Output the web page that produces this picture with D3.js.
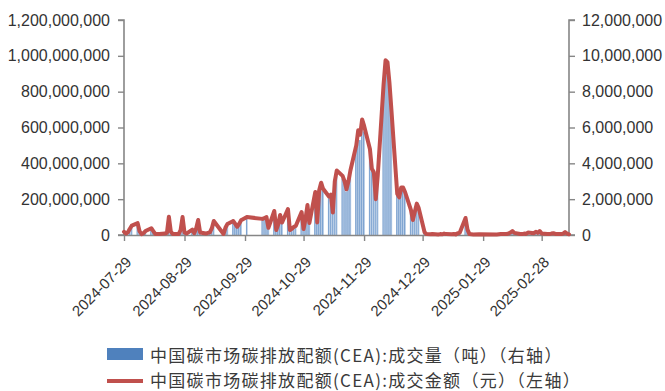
<!DOCTYPE html>
<html>
<head>
<meta charset="utf-8">
<script src="https://cdn.jsdelivr.net/npm/d3@7"></script>
<style>
  html, body { margin: 0; padding: 0; background: #fff; }
  svg { display: block; }
  .tick text { font-family: "Liberation Sans", Arial, sans-serif; fill: #333; }
</style>
</head>
<body>
<svg id="chart" width="665" height="391"></svg>
<script>
// Trading days, CEA turnover (yuan, left axis) and volume (tons, right axis)
const dates = [
  "2024-07-29","2024-07-30","2024-07-31",
  "2024-08-01","2024-08-02","2024-08-05","2024-08-06","2024-08-07","2024-08-08","2024-08-09",
  "2024-08-12","2024-08-13","2024-08-14","2024-08-15","2024-08-16","2024-08-19","2024-08-20",
  "2024-08-21","2024-08-22","2024-08-23","2024-08-26","2024-08-27","2024-08-28","2024-08-29","2024-08-30",
  "2024-09-02","2024-09-03","2024-09-04","2024-09-05","2024-09-06","2024-09-09","2024-09-10",
  "2024-09-11","2024-09-12","2024-09-13","2024-09-18","2024-09-19","2024-09-20","2024-09-23",
  "2024-09-24","2024-09-25","2024-09-26","2024-09-27","2024-09-30",
  "2024-10-08","2024-10-09","2024-10-10","2024-10-11","2024-10-14","2024-10-15","2024-10-16",
  "2024-10-17","2024-10-18","2024-10-21","2024-10-22","2024-10-23","2024-10-24","2024-10-25",
  "2024-10-28","2024-10-29","2024-10-30","2024-10-31",
  "2024-11-01","2024-11-04","2024-11-05","2024-11-06","2024-11-07","2024-11-08","2024-11-11",
  "2024-11-12","2024-11-13","2024-11-14","2024-11-15","2024-11-18","2024-11-19","2024-11-20",
  "2024-11-21","2024-11-22","2024-11-25","2024-11-26","2024-11-27","2024-11-28","2024-11-29",
  "2024-12-02","2024-12-03","2024-12-04","2024-12-05","2024-12-06","2024-12-09","2024-12-10",
  "2024-12-11","2024-12-12","2024-12-13","2024-12-16","2024-12-17","2024-12-18","2024-12-19",
  "2024-12-20","2024-12-23","2024-12-24","2024-12-25","2024-12-26","2024-12-27","2024-12-30","2024-12-31",
  "2025-01-02","2025-01-03","2025-01-06","2025-01-07","2025-01-08","2025-01-09","2025-01-10",
  "2025-01-13","2025-01-14","2025-01-15","2025-01-16","2025-01-17","2025-01-20","2025-01-21",
  "2025-01-22","2025-01-23","2025-01-24","2025-01-27",
  "2025-02-05","2025-02-06","2025-02-07","2025-02-10","2025-02-11","2025-02-12","2025-02-13",
  "2025-02-14","2025-02-17","2025-02-18","2025-02-19","2025-02-20","2025-02-21","2025-02-24",
  "2025-02-25","2025-02-26","2025-02-27","2025-02-28",
  "2025-03-03","2025-03-04","2025-03-05","2025-03-06","2025-03-07","2025-03-10","2025-03-11",
  "2025-03-12","2025-03-13","2025-03-14"
];

// 成交金额（元）
const amount = [
  18e6, 8e6, 15e6,
  35e6, 52e6, 66e6, 20e6, 5e6, 10e6, 22e6,
  38e6, 22e6, 6e6, 5e6, 6e6, 8e6, 12e6,
  102e6, 18e6, 6e6, 5e6, 28e6, 100e6, 14e6, 8e6,
  30e6, 10e6, 38e6, 84e6, 14e6, 8e6, 12e6,
  15e6, 38e6, 78e6, 6e6, 42e6, 61e6, 78e6,
  62e6, 46e6, 62e6, 82e6, 100e6,
  90e6, 95e6, 100e6, 40e6, 134e6, 28e6, 60e6,
  112e6, 70e6, 145e6, 28e6, 35e6, 45e6, 50e6,
  128e6, 33e6, 90e6, 167e6,
  67e6, 240e6, 70e6, 250e6, 292e6, 258e6, 215e6,
  225e6, 125e6, 300e6, 360e6, 330e6, 300e6, 255e6,
  300e6, 360e6, 500e6, 585e6, 560e6, 645e6, 610e6,
  480e6, 370e6, 350e6, 200e6, 330e6, 840e6, 975e6,
  965e6, 850e6, 700e6, 230e6, 210e6, 265e6, 265e6,
  240e6, 140e6, 84e6, 130e6, 175e6, 150e6, 15e6, 5e6,
  4e6, 6e6, 3e6, 5e6, 4e6, 8e6, 5e6,
  4e6, 6e6, 3e6, 10e6, 12e6, 95e6, 30e6,
  5e6, 4e6, 3e6, 4e6,
  3e6, 4e6, 5e6, 6e6, 8e6, 14e6, 22e6,
  12e6, 6e6, 5e6, 8e6, 6e6, 14e6, 10e6,
  18e6, 12e6, 22e6, 8e6,
  6e6, 5e6, 8e6, 10e6, 6e6, 5e6, 8e6,
  16e6, 8e6, 4e6
];

// 成交量（吨）
const volume = [
  190e3, 85e3, 160e3,
  380e3, 560e3, 720e3, 215e3, 55e3, 110e3, 240e3,
  410e3, 235e3, 65e3, 55e3, 65e3, 88e3, 130e3,
  1120e3, 195e3, 65e3, 55e3, 305e3, 1090e3, 150e3, 88e3,
  335e3, 112e3, 425e3, 950e3, 158e3, 90e3, 135e3,
  170e3, 430e3, 880e3, 68e3, 475e3, 690e3, 880e3,
  700e3, 520e3, 700e3, 920e3, 1100e3,
  880e3, 930e3, 980e3, 390e3, 1300e3, 270e3, 580e3,
  1080e3, 680e3, 1400e3, 270e3, 340e3, 440e3, 490e3,
  1240e3, 320e3, 870e3, 1610e3,
  650e3, 2300e3, 670e3, 2380e3, 2800e3, 2470e3, 2060e3,
  2150e3, 1190e3, 2860e3, 3430e3, 3150e3, 2860e3, 2430e3,
  2860e3, 3420e3, 4750e3, 5550e3, 5300e3, 6100e3, 5780e3,
  4600e3, 3550e3, 3360e3, 1920e3, 3170e3, 8100e3, 9400e3,
  9300e3, 8200e3, 6750e3, 2230e3, 2040e3, 2570e3, 2570e3,
  2330e3, 1360e3, 815e3, 1260e3, 1700e3, 1460e3, 150e3, 50e3,
  42e3, 63e3, 32e3, 52e3, 42e3, 84e3, 52e3,
  42e3, 63e3, 32e3, 105e3, 126e3, 1000e3, 315e3,
  53e3, 42e3, 32e3, 42e3,
  35e3, 46e3, 58e3, 70e3, 93e3, 163e3, 256e3,
  140e3, 70e3, 58e3, 93e3, 70e3, 163e3, 116e3,
  209e3, 140e3, 256e3, 93e3,
  70e3, 58e3, 93e3, 116e3, 70e3, 58e3, 93e3,
  186e3, 93e3, 46e3
];

const xTickDates = ["2024-07-29","2024-08-29","2024-09-29","2024-10-29","2024-11-29","2024-12-29","2025-01-29","2025-02-28"];
const leftTicks = [0, 200e6, 400e6, 600e6, 800e6, 1000e6, 1200e6];
const rightTicks = [0, 2e6, 4e6, 6e6, 8e6, 10e6, 12e6];
const xDomain = ["2024-07-29", "2025-03-14"];

const legendLabels = [
  "中国碳市场碳排放配额(CEA):成交量（吨）（右轴）",
  "中国碳市场碳排放配额(CEA):成交金额（元）（左轴）"
];

const parse = d3.timeParse("%Y-%m-%d");
const rows = dates.map((d, i) => ({ date: parse(d), amount: amount[i], volume: volume[i] }));

const margin = { left: 124, right: 96, top: 20, bottom: 156 };
const W = 665, H = 391;
const plotRight = W - margin.right, plotBottom = H - margin.bottom;

const svg = d3.select("#chart");
svg.append("rect").attr("width", W).attr("height", H).attr("fill", "#fff");

const x = d3.scaleTime().domain(xDomain.map(parse)).range([margin.left, plotRight]);
const yL = d3.scaleLinear().domain([0, 1200e6]).range([plotBottom, margin.top]);
const yR = d3.scaleLinear().domain([0, 12e6]).range([plotBottom, margin.top]);

// Gradient for the thin volume bars
const defs = svg.append("defs");
const g = defs.append("linearGradient").attr("id", "barGrad").attr("x1", "0").attr("x2", "1").attr("y1", "0").attr("y2", "0");
g.append("stop").attr("offset", "0%").attr("stop-color", "#4F81BD");
g.append("stop").attr("offset", "40%").attr("stop-color", "#8FB0D8");
g.append("stop").attr("offset", "100%").attr("stop-color", "#C3D5EA");

// Volume bars (right axis)
svg.append("g").selectAll("rect").data(rows).join("rect")
  .attr("x", d => x(d.date) - 1)
  .attr("width", 1.8)
  .attr("y", d => yR(d.volume))
  .attr("height", d => plotBottom - yR(d.volume))
  .attr("fill", "url(#barGrad)");

// Axes
const axisColor = "#868686";
const fmt = d3.format(",");

const gL = svg.append("g").attr("transform", `translate(${margin.left},0)`)
  .call(d3.axisLeft(yL).tickValues(leftTicks).tickFormat(fmt).tickSize(6).tickPadding(8));
const gR = svg.append("g").attr("transform", `translate(${plotRight},0)`)
  .call(d3.axisRight(yR).tickValues(rightTicks).tickFormat(fmt).tickSize(6).tickPadding(7));
const gX = svg.append("g").attr("transform", `translate(0,${plotBottom})`)
  .call(d3.axisBottom(x).tickValues(xTickDates.map(parse)).tickFormat(d3.timeFormat("%Y-%m-%d")).tickSize(6).tickSizeOuter(0));

[gL, gR, gX].forEach(a => {
  a.selectAll(".domain").attr("stroke", axisColor).attr("stroke-width", 1.6);
  a.selectAll(".tick line").attr("stroke", axisColor).attr("stroke-width", 1.4);
});
gL.selectAll(".domain").attr("d", `M-6,${margin.top}H0V${plotBottom}H-6`);
gR.selectAll(".domain").attr("d", `M6,${margin.top}H0V${plotBottom}H6`);
gL.selectAll("text").attr("font-size", 16);
gR.selectAll("text").attr("font-size", 16);
gX.selectAll("text")
  .attr("font-size", 15)
  .attr("text-anchor", "end")
  .attr("y", 0).attr("dy", 0)
  .attr("transform", "translate(8,28) rotate(-45)");

// Turnover line (left axis)
svg.append("path").datum(rows)
  .attr("fill", "none")
  .attr("stroke", "#C0504D")
  .attr("stroke-width", 4)
  .attr("stroke-linejoin", "round")
  .attr("stroke-linecap", "round")
  .attr("d", d3.line().x(d => x(d.date)).y(d => yL(d.amount)));

// Legend
const lg = svg.append("g").attr("font-family", "'Noto Sans CJK SC', sans-serif").attr("font-size", 17)
  .attr("fill", "#3a3a3a").attr("letter-spacing", 1.3);
lg.append("rect").attr("x", 107).attr("y", 348).attr("width", 36).attr("height", 12).attr("fill", "#4F81BD");
lg.append("text").attr("x", 150).attr("y", 354).attr("dominant-baseline", "central").text(legendLabels[0]);
lg.append("line").attr("x1", 107).attr("x2", 143).attr("y1", 381).attr("y2", 381)
  .attr("stroke", "#C0504D").attr("stroke-width", 4);
lg.append("text").attr("x", 150).attr("y", 379).attr("dominant-baseline", "central").text(legendLabels[1]);
</script>
</body>
</html>
